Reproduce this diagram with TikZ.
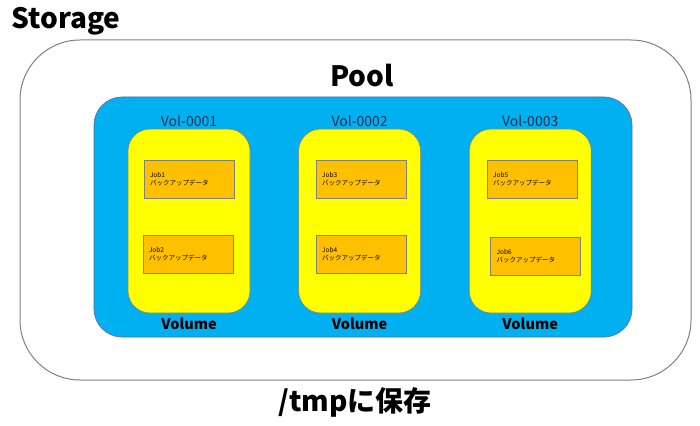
\documentclass[tikz,border=0pt]{standalone}
\usepackage{fontspec}
\setmainfont{Noto Sans CJK JP}
\usetikzlibrary{positioning}
\definecolor{poolblue}{RGB}{0,176,240}
\definecolor{volyellow}{RGB}{255,255,0}
\definecolor{joborange}{RGB}{255,192,0}
\definecolor{edgegray}{RGB}{128,128,128}
\definecolor{labelnavy}{RGB}{22,50,78}
\tikzset{
storagebox/.style={draw=edgegray,line width=1pt,rounded corners=60pt,minimum width=671pt,minimum height=340pt},
poolbox/.style={draw=edgegray!80!blue,fill=poolblue,line width=0.6pt,rounded corners=28pt,minimum width=538pt,minimum height=240pt},
volbox/.style={draw=edgegray,fill=volyellow,line width=0.6pt,rounded corners=22pt,minimum width=122pt,minimum height=184pt},
jobbox/.style={draw=edgegray,fill=joborange,line width=0.6pt,minimum height=38pt,text width=78pt,inner xsep=6pt,align=left,font=\fontsize{6.5}{8}\selectfont},
vollabel/.style={text=labelnavy,inner sep=1pt,font=\fontsize{14}{16}\selectfont},
volname/.style={inner sep=1pt,font=\bfseries\fontsize{14.5}{16}\selectfont},
bigtitle/.style={inner sep=0pt,font=\bfseries\fontsize{28}{32}\selectfont}
}
\begin{document}
\begin{tikzpicture}[x=1pt,y=-1pt]
\useasboundingbox (0,0) rectangle (700,425);
\node[storagebox] (storage) at (355.5,210) {};
\node[poolbox] (pool) at (363,217) {};
\node[bigtitle] (storagetitle) at (66,21) {Storage};
\node[bigtitle] (pooltitle) at (362,76) {Pool};
\node[bigtitle] (savetitle) at (355,402) {/tmpに保存};
% volumes
\node[volbox] (vol1) at (189,221) {};
\node[volbox,right=48pt of vol1] (vol2) {};
\node[volbox,right=48pt of vol2] (vol3) {};
\node[vollabel,above=1pt of vol1] (vol1name) {Vol-0001};
\node[vollabel,above=1pt of vol2] (vol2name) {Vol-0002};
\node[vollabel,above=1pt of vol3] (vol3name) {Vol-0003};
\node[volname,below=3pt of vol1] (vol1type) {Volume};
\node[volname,below=3pt of vol2] (vol2type) {Volume};
\node[volname,below=3pt of vol3] (vol3type) {Volume};
% jobs
\node[jobbox,below=31pt of vol1.north] (job1) {Job1\\バックアップデータ};
\node[jobbox,below=37pt of job1,xshift=-1pt] (job2) {Job2\\バックアップデータ};
\node[jobbox,below=31pt of vol2.north,xshift=1.5pt] (job3) {Job3\\バックアップデータ};
\node[jobbox,below=37pt of job3] (job4) {Job4\\バックアップデータ};
\node[jobbox,below=31pt of vol3.north,xshift=2pt] (job5) {Job5\\バックアップデータ};
\node[jobbox,below=39pt of job5,xshift=3.5pt] (job6) {Job6\\バックアップデータ};
\end{tikzpicture}
\end{document}
